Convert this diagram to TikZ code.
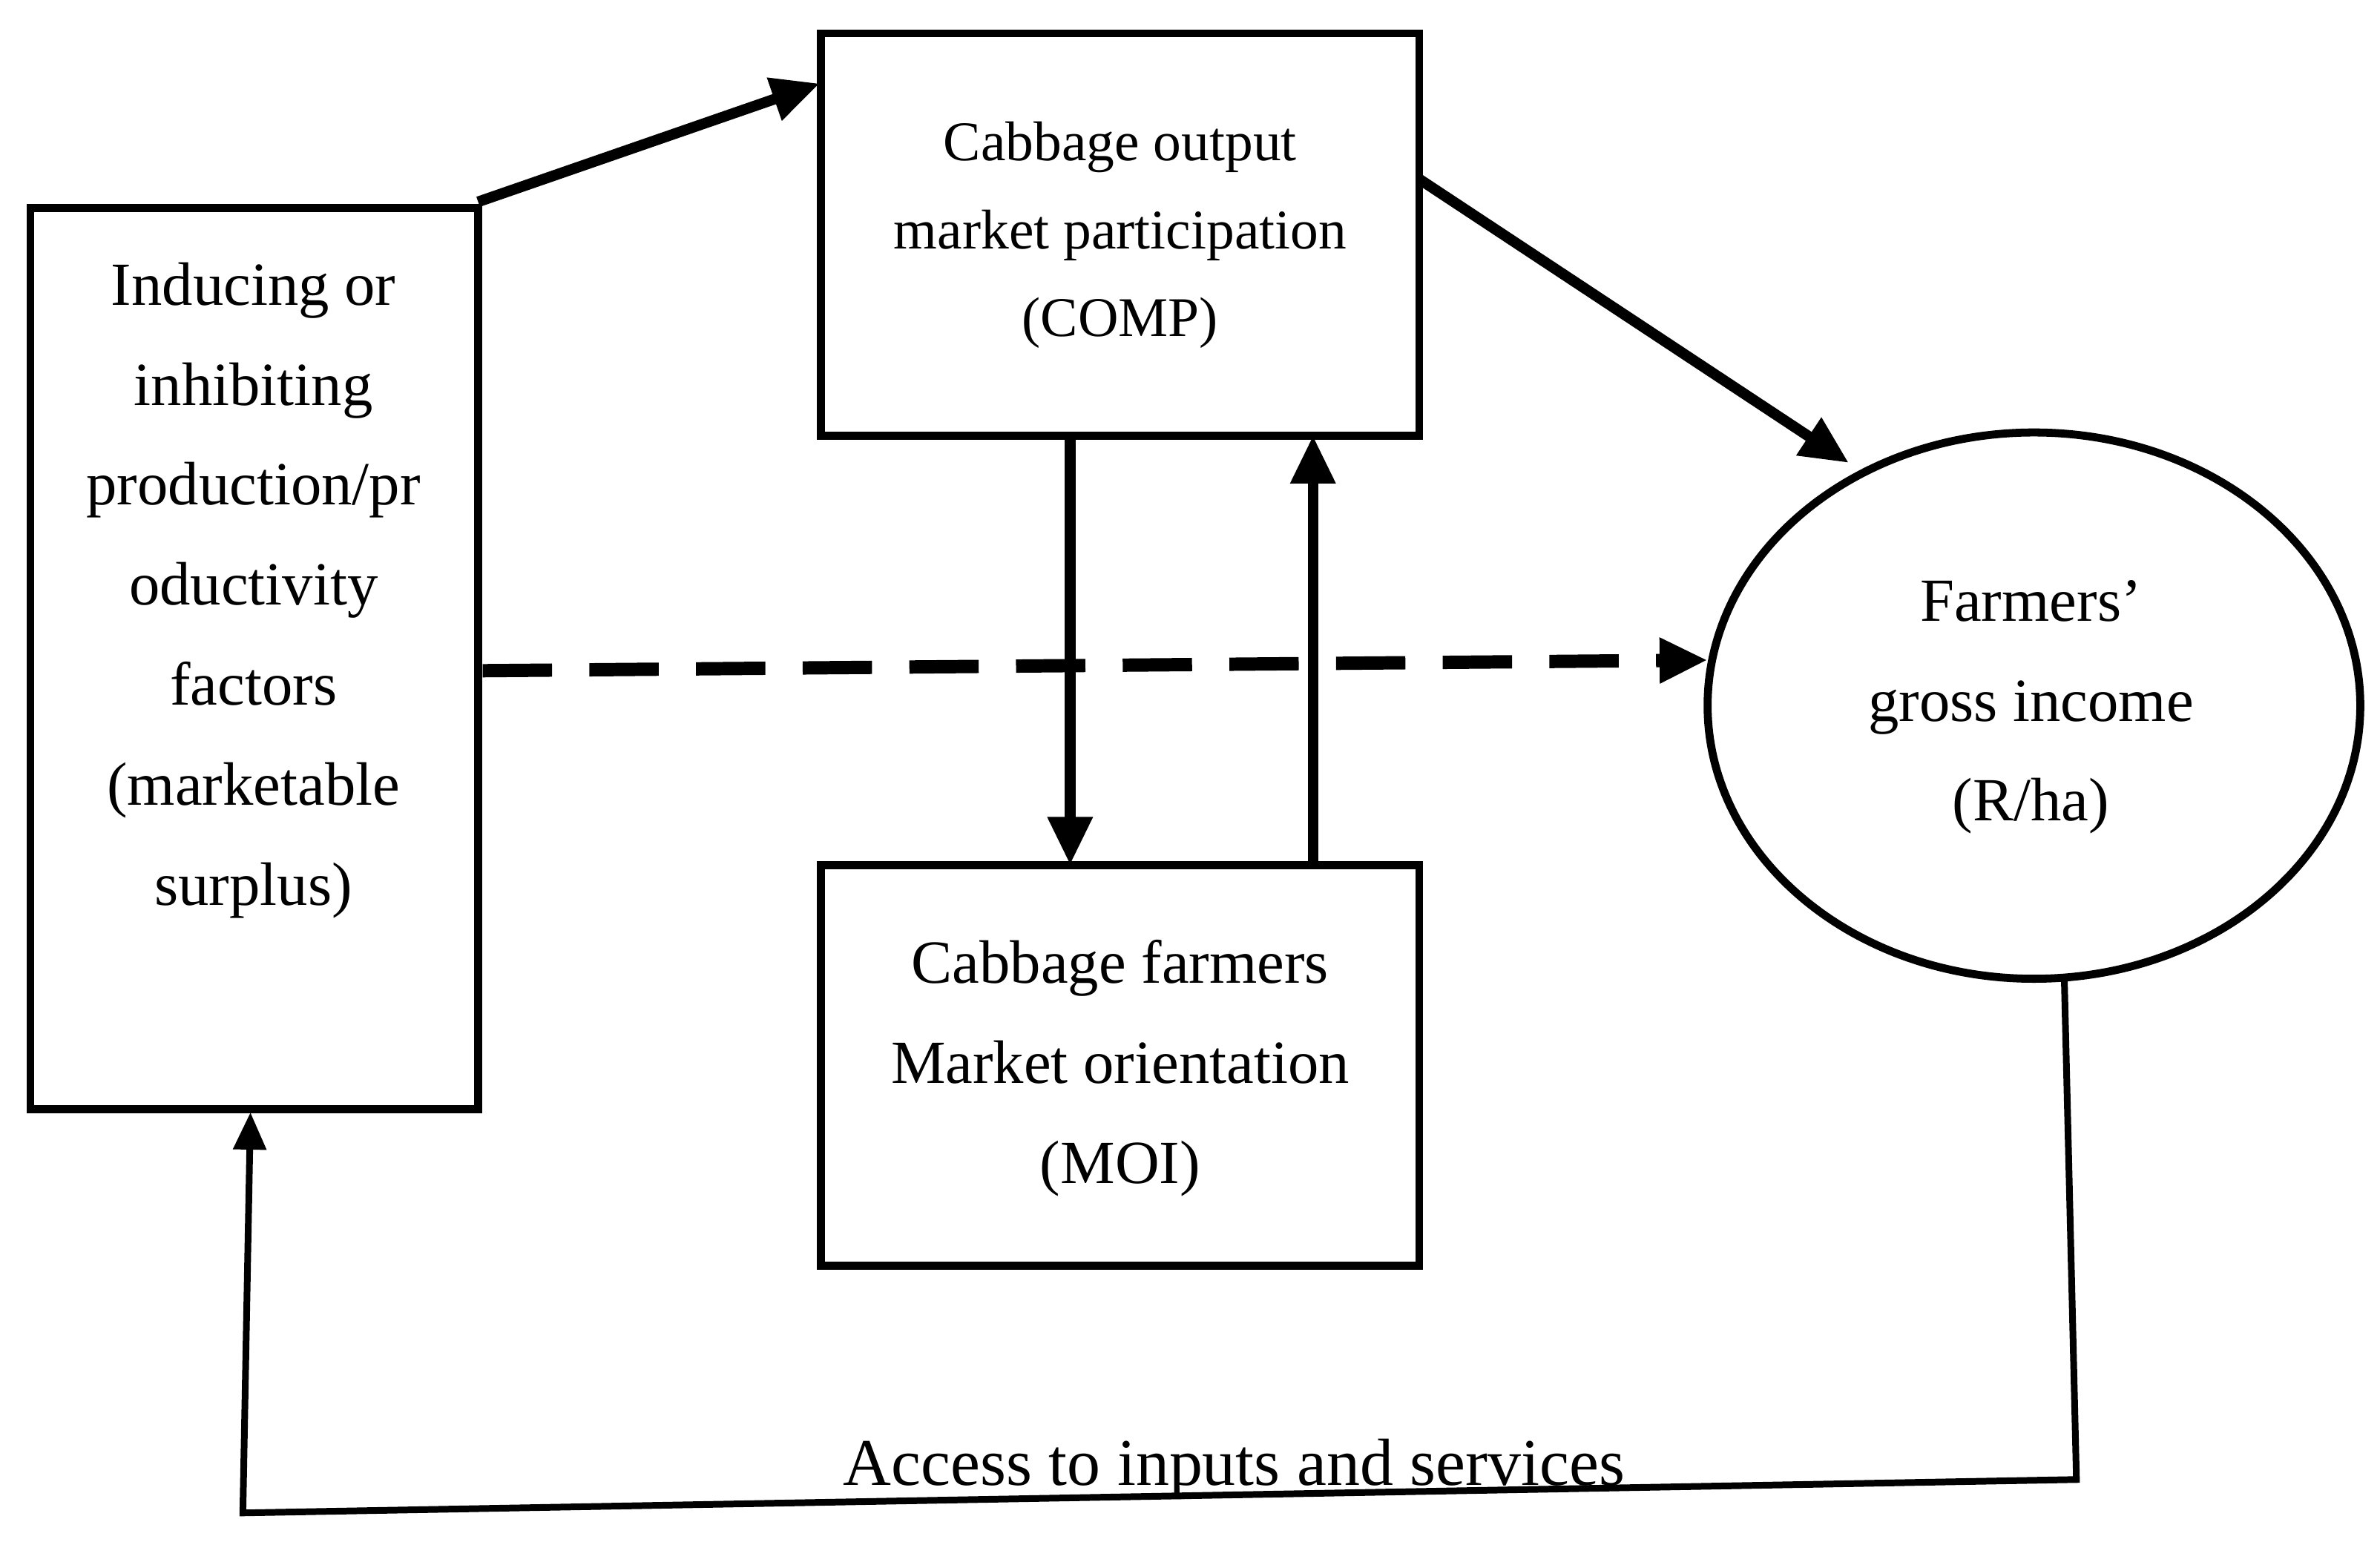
\documentclass[tikz,border=0pt]{standalone}
\usepackage{fontspec}
\setmainfont{Liberation Serif}
\usetikzlibrary{arrows.meta,shapes.geometric}
\begin{document}
\begin{tikzpicture}[x=0.02cm,y=-0.02cm,
 thick arr/.style={line width=4pt,-{Triangle[length=18pt,width=16pt]}},
 txt/.style={align=center,font=\fontsize{21}{37.5}\selectfont}]
\useasboundingbox (0,0) rectangle (1568,1016);
\draw[line width=3pt] (20,137) rectangle (315,731);
\node[txt,font=\fontsize{23}{37.5}\selectfont] (L) at (167,389) {Inducing or\\inhibiting\\production/pr\\oductivity\\factors\\(marketable\\surplus)};
\coordinate (Ltr) at (315,133); \coordinate (Lr) at (318,442); \coordinate (Lb) at (165,733);
\draw[line width=3pt] (541,22) rectangle (935,287);
\node[txt,font=\fontsize{21}{33}\selectfont] (T) at (738,155) {Cabbage output\\market participation\\(COMP)};
\coordinate (Tl) at (540,55); \coordinate (Tr) at (935,118);
\coordinate (Tb1) at (705,287); \coordinate (Tb2) at (865,287);
\draw[line width=3pt] (541,570) rectangle (935,834);
\node[txt,font=\fontsize{23}{37.5}\selectfont] (B) at (738,704) {Cabbage farmers\\Market orientation\\(MOI)};
\coordinate (Bt1) at (705,570); \coordinate (Bt2) at (865,570);
\draw[line width=3pt] (1340,465) ellipse [x radius=215,y radius=180];
\node[txt,font=\fontsize{23}{37.5}\selectfont] (E) at (1338,466) {Farmers'\\gross income\\(R/ha)};
\coordinate (Etl) at (1218,305); \coordinate (El) at (1125,435); \coordinate (Eb) at (1360,645);
\coordinate (c1) at (1368,975); \coordinate (c2) at (160,997);
\draw[thick arr] (Ltr) -- (Tl);
\draw[thick arr] (Tr) -- (Etl);
\draw[thick arr] (Tb1) -- (Bt1);
\draw[thick arr] (Bt2) -- (Tb2);
\draw[line width=5pt,dash pattern=on 26pt off 14pt,-{Triangle[length=18pt,width=16pt]}] (Lr) -- (El);
\draw[line width=2.5pt,-{Triangle[length=14pt,width=12pt]}] (Eb) -- (c1) -- (c2) -- (Lb);
\node[font=\fontsize{25}{28}\selectfont] (A) at (813,968) {Access to inputs and services};
\end{tikzpicture}
\end{document}
